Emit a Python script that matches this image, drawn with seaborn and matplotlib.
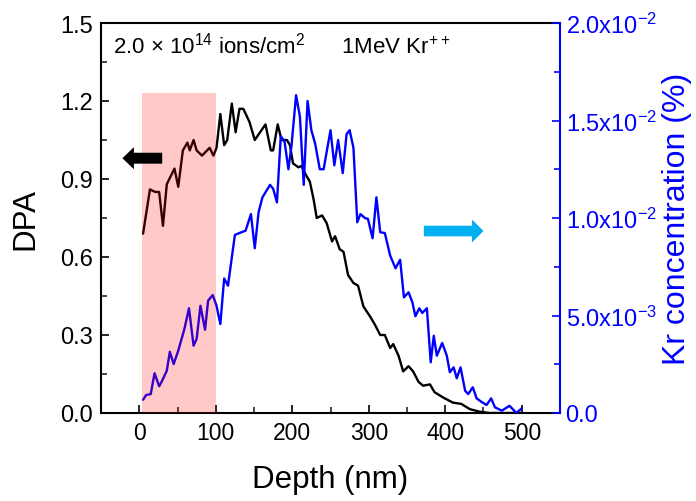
import matplotlib
matplotlib.use("Agg")
import matplotlib.pyplot as plt
import seaborn as sns
import pandas as pd
from matplotlib.ticker import FixedLocator, MultipleLocator

# ---------------- data ----------------
dpa_depth = [5, 14, 21, 26, 31, 36, 46, 51, 57, 63, 66, 71, 75, 82, 92, 97, 101, 106, 111, 115,
             121, 126, 131, 136, 144, 151, 158, 165, 172, 175, 181, 186, 193, 197, 201, 208, 212,
             217, 223, 228, 232, 239, 245, 252, 256, 262, 267, 273, 280, 286, 293, 302, 308, 315,
             321, 328, 332, 339, 345, 352, 358, 365, 371, 380, 386, 397, 410, 421, 432, 445, 458,
             475, 490, 500]
dpa_value = [0.69, 0.86, 0.85, 0.85, 0.72, 0.88, 0.94, 0.87, 1.01, 1.04, 1.01, 1.05, 1.01, 0.99,
             1.02, 0.99, 1.02, 1.15, 1.03, 1.05, 1.19, 1.08, 1.17, 1.17, 1.12, 1.05, 1.08, 1.11,
             1.01, 1.01, 1.11, 1.05, 1.05, 1.03, 0.96, 0.945, 0.95, 0.92, 0.89, 0.82, 0.75, 0.76,
             0.73, 0.66, 0.68, 0.63, 0.62, 0.53, 0.50, 0.49, 0.41, 0.37, 0.34, 0.30, 0.30, 0.25,
             0.265, 0.22, 0.16, 0.18, 0.16, 0.12, 0.105, 0.11, 0.08, 0.06, 0.04, 0.035, 0.015,
             0.005, 0.0, 0.0, 0.0, 0.0]

kr_depth = [5, 9, 15, 20, 26, 30, 36, 40, 45, 51, 59, 65, 71, 75, 80, 86, 90, 96, 101, 106, 111,
            116, 125, 131, 139, 146, 151, 156, 161, 171, 175, 180, 185, 190, 195, 199, 205, 210,
            215, 220, 225, 230, 236, 241, 250, 255, 260, 266, 271, 275, 280, 285, 289, 295, 299,
            305, 310, 315, 321, 328, 335, 341, 346, 352, 357, 361, 366, 370, 376, 381, 385, 389,
            396, 402, 406, 411, 415, 420, 426, 430, 436, 441, 447, 454, 460, 465, 474, 484, 493,
            500]
kr_conc_e3 = [0.68, 0.92, 0.97, 2.04, 1.37, 1.66, 2.17, 3.14, 2.51, 3.2, 4.31, 5.37, 3.45, 3.8,
              5.5, 4.27, 5.76, 6.05, 5.5, 4.56, 6.9, 6.53, 9.13, 9.23, 9.35, 10.2, 8.45, 10.3,
              11.06, 11.7, 11.5, 10.8, 14.2, 13.9, 12.5, 13.7, 16.3, 15.2, 11.7, 16.0, 14.5, 13.8,
              12.5, 12.5, 14.5, 12.7, 14.0, 12.3, 14.3, 14.5, 13.6, 9.78, 10.2, 10.0, 9.95, 8.96,
              11.06, 9.27, 9.23, 8.07, 7.42, 7.86, 5.93, 6.19, 5.68, 4.96, 5.37, 5.13, 5.37, 2.6,
              3.96, 2.94, 3.59, 2.94, 2.09, 2.34, 1.78, 2.34, 1.14, 0.97, 1.32, 0.75, 0.58, 0.41,
              0.75, 0.29, 0.12, 0.37, 0.0, 0.24]

x_ticks = [0, 100, 200, 300, 400, 500]
y_left_ticks = [0.0, 0.3, 0.6, 0.9, 1.2, 1.5]
y_right_ticks = [0.0, 0.005, 0.010, 0.015, 0.020]
y_right_labels = ["0.0", "5.0x10$^{\\mathregular{-3}}$", "1.0x10$^{\\mathregular{-2}}$",
                  "1.5x10$^{\\mathregular{-2}}$", "2.0x10$^{\\mathregular{-2}}$"]
highlight_range = (3, 100)
annotation = ("2.0 × 10$^{\\mathregular{14}}$ ions/cm$^{\\mathregular{2}}$"
              "      1MeV Kr$^{\\mathregular{++}}$")

# ---------------- style ----------------
sns.set_style("ticks")
plt.rcParams["font.family"] = ["Liberation Sans", "DejaVu Sans"]
plt.rcParams["mathtext.fontset"] = "custom"
plt.rcParams["mathtext.rm"] = "Liberation Sans"
plt.rcParams["mathtext.it"] = "Liberation Sans:italic"
plt.rcParams["mathtext.bf"] = "Liberation Sans:bold"
plt.rcParams["text.color"] = "black"
plt.rcParams["axes.labelcolor"] = "black"

BLUE = "#0000FF"

dpa_df = pd.DataFrame({"Depth": dpa_depth, "DPA": dpa_value})
kr_df = pd.DataFrame({"Depth": kr_depth, "Kr": [v * 1e-3 for v in kr_conc_e3]})

fig = plt.figure(figsize=(6.96, 5.02), dpi=100)
ax = fig.add_axes([101 / 696, 88 / 502, 459 / 696, 390 / 502])
ax2 = ax.twinx()

sns.lineplot(data=dpa_df, x="Depth", y="DPA", ax=ax, color="black", linewidth=1.7,
             estimator=None, sort=False)
sns.lineplot(data=kr_df, x="Depth", y="Kr", ax=ax2, color=BLUE, linewidth=1.7,
             estimator=None, sort=False)

# pink highlight drawn over the lines
ax2.axvspan(highlight_range[0], highlight_range[1], ymin=0, ymax=1.23 / 1.5,
            color="red", alpha=0.21, lw=0, zorder=5)

ax.set_xlim(-50, 550)
ax.set_ylim(0, 1.5)
ax2.set_ylim(0, 0.02)

ax.xaxis.set_major_locator(FixedLocator(x_ticks))
ax.xaxis.set_minor_locator(MultipleLocator(50))
ax.yaxis.set_major_locator(FixedLocator(y_left_ticks))
ax.yaxis.set_minor_locator(MultipleLocator(0.15))
ax.set_yticklabels([f"{v:.1f}" for v in y_left_ticks])
ax2.yaxis.set_major_locator(FixedLocator(y_right_ticks))
ax2.set_yticklabels(y_right_labels)
ax2.yaxis.set_minor_locator(MultipleLocator(0.0025))

ax.tick_params(axis="both", which="major", direction="in", length=6, width=1.2,
               labelsize=16.5, colors="black", pad=6)
ax.tick_params(axis="y", which="major", labelsize=17)
ax.tick_params(axis="both", which="minor", direction="in", length=4, width=1.2)
ax.tick_params(axis="y", which="both", right=False)
ax.tick_params(axis="x", which="both", top=False)
ax2.tick_params(axis="y", which="major", direction="in", length=6, width=1.2,
                labelsize=17, colors=BLUE, pad=4)
ax2.tick_params(axis="y", which="minor", direction="in", length=4, width=1.2, colors=BLUE)

for s in ["left", "bottom", "top"]:
    ax.spines[s].set_linewidth(1.5)
    ax.spines[s].set_color("black")
ax.spines["right"].set_visible(False)
for s in ["left", "bottom", "top"]:
    ax2.spines[s].set_visible(False)
ax2.spines["right"].set_color(BLUE)
ax2.spines["right"].set_linewidth(1.5)

ax.set_xlabel("Depth (nm)", fontsize=22.5, labelpad=14, color="black")
ax.set_ylabel("DPA", fontsize=22.5, labelpad=14, color="black")
ax2.set_ylabel("Kr concentration (%)", fontsize=23, color=BLUE, labelpad=4)

# arrows (drawn on the top axes so the highlight does not cover them)
ax2.arrow(30, 0.98 / 75, -37, 0, width=0.042 / 75, head_width=0.085 / 75, head_length=15,
          color="black", lw=0, zorder=6)
ax2.arrow(372, 0.70 / 75, 63, 0, width=0.041 / 75, head_width=0.088 / 75, head_length=15,
          color="#00B0F0", lw=0, zorder=6)

ax.text(0.027, 0.944, annotation, transform=ax.transAxes, fontsize=16, va="center", ha="left",
        color="black")

fig.savefig("out.png", dpi=100)
